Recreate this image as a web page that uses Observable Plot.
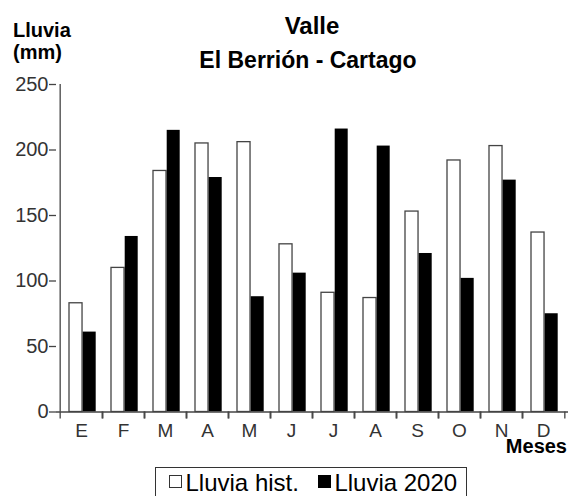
<!DOCTYPE html>
<html><head><meta charset="utf-8">
<script src="https://cdn.jsdelivr.net/npm/d3@7"></script>
<script src="https://cdn.jsdelivr.net/npm/@observablehq/plot@0.6"></script>
<style>
body{margin:0;background:#fff;font-family:"Liberation Sans",Arial,sans-serif;}
#wrap{position:relative;width:570px;height:496px;overflow:hidden;}
#chart{position:absolute;left:0;top:0;}
.t{position:absolute;white-space:nowrap;font-weight:bold;color:#000;line-height:1;}
#legend{position:absolute;left:155px;top:467px;width:312px;height:40px;border:1.3px solid #333;box-sizing:border-box;background:#fff;
  display:flex;align-items:flex-start;padding:3px 0 0 13px;font-size:24px;line-height:1;color:#000;white-space:nowrap;}
.sq{display:inline-block;width:13px;height:13px;box-sizing:border-box;margin-top:4px;margin-right:3.5px;flex:none;}
.gap{display:inline-block;width:19px;flex:none;}
</style></head><body>
<div id="wrap">
<div id="chart"></div>
<div class="t" style="left:212px;width:200px;text-align:center;top:14px;font-size:24px;">Valle</div>
<div class="t" style="left:158px;width:300px;text-align:center;top:49px;font-size:23px;">El Berrión - Cartago</div>
<div class="t" style="left:13px;top:20px;font-size:20px;">Lluvia</div>
<div class="t" style="left:13px;top:42px;font-size:20px;">(mm)</div>
<div class="t" style="right:3px;top:436px;font-size:20px;">Meses</div>
<div id="legend">
  <span class="sq" style="border:1.2px solid #333;background:#fff;"></span><span>Lluvia hist.</span><span class="gap"></span><span class="sq" style="background:#000;"></span><span>Lluvia 2020</span>
</div>
</div>
<script>
const months = ["Ene","Feb","Mar","Abr","May","Jun","Jul","Ago","Sep","Oct","Nov","Dic"];
const monthLabels = ["E","F","M","A","M","J","J","A","S","O","N","D"];
const lluviaHist = [83,110,184,205,206,128,91,87,153,192,203,137];
const lluvia2020 = [61,134,215,179,88,106,216,203,121,102,177,75];
const yTicks = [0,50,100,150,200,250];

const data = months.map((m,i)=>({mes:m, hist:lluviaHist[i], y2020:lluvia2020[i]}));
const labelOf = Object.fromEntries(months.map((m,i)=>[m, monthLabels[i]]));

const W = 570, ML = 56, MR = 2;
const bw = (W - ML - MR) / months.length;

const chart = Plot.plot({
  width: W, height: 496,
  marginLeft: ML, marginRight: MR, marginTop: 84, marginBottom: 84.5,
  style: {fontFamily: '"Liberation Sans", Arial, sans-serif', color: "#333", background: "transparent"},
  x: {domain: months, padding: 0, axis: null, label: null},
  y: {domain: [0,250], axis: null, label: null},
  marks: [
    Plot.barY(data, {x:"mes", y:"hist", fill:"white", stroke:"#444", strokeWidth:1.3, insetLeft:9, insetRight:bw-22.7}),
    Plot.barY(data, {x:"mes", y:"y2020", fill:"black", insetLeft:22.7, insetRight:6.3}),
    Plot.ruleY([0], {stroke:"#444", strokeWidth:1.3}),
    Plot.ruleX([months[0]], {dx:-bw/2, y1:0, y2:250, stroke:"#444", strokeWidth:1.3}),
    Plot.axisY({ticks: yTicks, tickSize: 7, tickPadding: 1, fontSize: 20, stroke:"#444", strokeWidth:1.3, label: null}),
    Plot.axisX({tickSize: 0, tickPadding: 11, fontSize: 19, tickFormat: m => labelOf[m], label: null}),
    Plot.axisX({tickSize: 7, tickFormat: () => "", dx: -bw/2, stroke:"#444", strokeWidth:1.3, label: null}),
    Plot.axisX({tickSize: 7, tickFormat: () => "", dx: bw/2, stroke:"#444", strokeWidth:1.3, label: null})
  ]
});
document.getElementById("chart").appendChild(chart);
</script>
</body></html>
